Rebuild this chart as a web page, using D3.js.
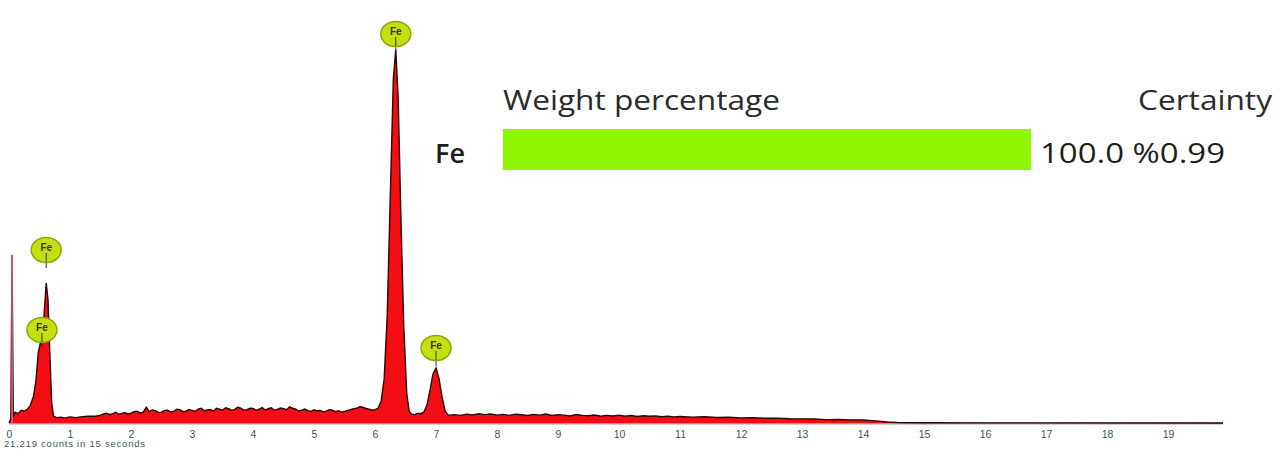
<!DOCTYPE html>
<html>
<head>
<meta charset="utf-8">
<script src="https://cdn.jsdelivr.net/npm/d3@7"></script>
<style>
  body { margin: 0; background: #fff; }
</style>
</head>
<body>
<svg id="chart"></svg>
<script>
// spectrum: energy (keV) and counts
const spectrumKeV = [
  0.00, 0.03, 0.05, 0.07, 0.10, 0.15, 0.20, 0.25, 0.30, 0.35, 0.40, 0.44, 0.48, 0.52, 0.55, 0.58, 0.61, 0.64, 0.67, 0.70, 0.73, 0.78, 0.85, 0.90,
  1.0, 1.1, 1.2, 1.3, 1.4,
  1.50, 1.55, 1.60, 1.65, 1.70, 1.75, 1.80, 1.85, 1.90, 1.95, 2.00, 2.05, 2.10, 2.15, 2.20, 2.25, 2.30, 2.35, 2.40, 2.45,
  2.50, 2.55, 2.60, 2.65, 2.70, 2.75, 2.80, 2.85, 2.90, 2.95, 3.00, 3.05, 3.10, 3.15, 3.20, 3.25, 3.30, 3.35, 3.40, 3.45,
  3.50, 3.55, 3.60, 3.65, 3.70, 3.75, 3.80, 3.85, 3.90, 3.95, 4.00, 4.05, 4.10, 4.15, 4.20, 4.25, 4.30, 4.35, 4.40, 4.45,
  4.50, 4.55, 4.60, 4.65, 4.70, 4.75, 4.80, 4.85, 4.90, 4.95, 5.00, 5.05, 5.10, 5.15, 5.20, 5.25, 5.30, 5.35, 5.40, 5.45,
  5.50, 5.55, 5.60, 5.65, 5.70, 5.75, 5.80, 5.85, 5.90, 5.95, 6.00,
  6.05, 6.1, 6.15, 6.2, 6.25, 6.3, 6.34, 6.38, 6.42, 6.47, 6.52, 6.56,
  6.6, 6.65, 6.7, 6.75, 6.8, 6.85, 6.9, 6.95, 7.0, 7.05, 7.1, 7.15, 7.2, 7.3, 7.4, 7.5, 7.6, 7.7, 7.8, 7.9,
  8.0, 8.1, 8.2, 8.3, 8.4, 8.5, 8.6, 8.7, 8.8, 8.9, 9.0, 9.1, 9.2, 9.3, 9.4, 9.5, 9.6, 9.7, 9.8, 9.9,
  10.0, 10.1, 10.2, 10.3, 10.4, 10.5, 10.6, 10.7, 10.8, 10.9, 11.0, 11.2, 11.4, 11.6, 11.8, 12.0, 12.2, 12.4, 12.6, 12.8,
  13.0, 13.2, 13.4, 13.6, 13.8, 14.0, 14.2, 14.4, 14.6, 15.0, 16.0, 19.9
];
const spectrumCounts = [
  0, 40, 1710, 60, 110, 95, 130, 120, 140, 180, 270, 420, 720, 830, 850, 1150, 1425, 1250, 700, 200, 70, 55, 60, 50,
  62, 55, 65, 70, 68,
  80, 92, 100, 85, 95, 110, 88, 98, 105, 92, 100, 115, 120, 102, 110, 160, 115, 132, 125, 108,
  110, 128, 130, 112, 118, 140, 135, 115, 120, 138, 128, 118, 140, 150, 125, 132, 138, 120, 150, 142,
  130, 155, 145, 128, 138, 160, 152, 130, 135, 150, 148, 128, 140, 158, 132, 145, 155, 130, 138, 152,
  145, 135, 165, 150, 140, 122, 130, 142, 125, 118, 135, 122, 128, 112, 120, 135, 130, 115, 125, 110,
  118, 128, 135, 145, 150, 165, 160, 148, 140, 130, 135,
  150, 220, 450, 1100, 2300, 3500, 3800, 3300, 2200, 1000, 300, 120,
  90, 85, 100, 95, 110, 180, 330, 500, 560, 450, 260, 120, 80, 85, 78, 90, 82, 95, 85, 92,
  80, 88, 78, 90, 84, 76, 88, 80, 92, 78, 85, 80, 72, 86, 78, 74, 82, 70, 78, 72,
  80, 70, 76, 66, 74, 68, 72, 64, 70, 62, 66, 60, 64, 56, 58, 52, 55, 48, 50, 44,
  42, 40, 34, 36, 32, 30, 22, 10, 4, 2, 1, 0
];

// peak labels: energy and count level of the label circle
const peakLabels = ["Fe", "Fe", "Fe", "Fe"];
const peakKeV = [0.61, 0.54, 6.34, 7.0];
const peakCounts = [1761, 947, 3959, 763];

const axisTicks = d3.range(0, 20);
const countsNote = "21,219 counts in 15 seconds";

// weight percentage table
const elements = ["Fe"];
const weightPct = [100.0];
const certainty = ["%0.99"];

const W = 1280, H = 454;
const svg = d3.select("#chart").attr("width", W).attr("height", H);

const x = d3.scaleLinear().domain([0, 19.9]).range([9, 1223]);
const y = d3.scaleLinear().domain([0, 4000]).range([423, 30]);

const data = spectrumKeV.map((e, i) => ({ e, c: spectrumCounts[i] }));

// axis baseline
svg.append("line")
    .attr("x1", x(0)).attr("x2", x(19.9))
    .attr("y1", y(0) + 0.5).attr("y2", y(0) + 0.5)
    .attr("stroke", "#a898b0")
    .attr("stroke-width", 2);

svg.append("path")
    .datum(data)
    .attr("fill", "#f40d12")
    .attr("d", d3.area().x(d => x(d.e)).y0(y(0)).y1(d => y(d.c)));

svg.append("path")
    .datum(data)
    .attr("fill", "none")
    .attr("stroke", "#2e0505")
    .attr("stroke-width", 1.4)
    .attr("d", d3.line().x(d => x(d.e)).y(d => y(d.c)));

// zero-energy strobe line
svg.append("line")
    .attr("x1", x(0.05)).attr("x2", x(0.05))
    .attr("y1", y(0)).attr("y2", y(1710))
    .attr("stroke", "#e8608a").attr("stroke-width", 1.5);

// x axis
const xAxis = svg.append("g")
    .attr("transform", `translate(0,${y(0) + 1})`)
    .call(d3.axisBottom(x).tickValues(axisTicks).tickSize(0).tickPadding(7).tickFormat(d3.format("d")));
xAxis.select(".domain").remove();
xAxis.selectAll("text")
    .style("font-size", "10.5px")
    .style("font-family", "'Liberation Sans', sans-serif")
    .style("fill", "#3b5656");

svg.append("text")
    .attr("x", 4).attr("y", 447)
    .attr("textLength", 141)
    .style("font-size", "9.5px")
    .style("font-family", "'Liberation Sans', sans-serif")
    .style("fill", "#3b5656")
    .text(countsNote);

// peak labels
const lab = svg.selectAll(".peak")
    .data(peakLabels.map((t, i) => ({ t, e: peakKeV[i], c: peakCounts[i] })))
    .enter().append("g")
    .attr("class", "peak")
    .attr("transform", d => `translate(${x(d.e)},${y(d.c)})`);

lab.append("line")
    .attr("x1", 0).attr("x2", 0).attr("y1", 3).attr("y2", 18)
    .attr("stroke", "#333").attr("stroke-width", 1);
lab.append("ellipse")
    .attr("rx", 15).attr("ry", 12.5)
    .attr("fill", "#c4e010")
    .attr("stroke", "#8ea600")
    .attr("stroke-width", 1.5);
lab.append("line")
    .attr("x1", 0).attr("x2", 0).attr("y1", 3).attr("y2", 12)
    .attr("stroke", "#333").attr("stroke-width", 1);
lab.append("text")
    .attr("y", 1)
    .attr("text-anchor", "middle")
    .style("font-size", "10px")
    .style("font-weight", "bold")
    .style("font-family", "'Liberation Sans', sans-serif")
    .style("fill", "#333")
    .text(d => d.t);

// weight percentage panel
const wx = d3.scaleLinear().domain([0, 100]).range([503, 1031]);
const font = "'Open Sans', sans-serif";

svg.append("text")
    .attr("x", 503).attr("y", 110)
    .attr("textLength", 277).attr("lengthAdjust", "spacingAndGlyphs")
    .style("font-size", "27px").style("font-family", font).style("fill", "#2b2b2b")
    .text("Weight percentage");
svg.append("text")
    .attr("x", 1138).attr("y", 110)
    .attr("textLength", 134).attr("lengthAdjust", "spacingAndGlyphs")
    .style("font-size", "27px").style("font-family", font).style("fill", "#2b2b2b")
    .text("Certainty");

elements.forEach((el, i) => {
    const top = 129 + i * 50;
    svg.append("rect")
        .attr("x", wx(0)).attr("y", top)
        .attr("width", wx(weightPct[i]) - wx(0)).attr("height", 41)
        .attr("fill", "#8ef600");
    svg.append("text")
        .attr("x", 435).attr("y", top + 34)
        .style("font-size", "27px").style("font-weight", "600").style("font-family", font).style("fill", "#1e1e1e")
        .text(el);
    svg.append("text")
        .attr("x", 1040).attr("y", top + 34)
        .attr("textLength", 185).attr("lengthAdjust", "spacingAndGlyphs")
        .style("font-size", "27px").style("font-family", font).style("fill", "#1e1e1e")
        .text(d3.format(".1f")(weightPct[i]) + " " + certainty[i]);
});
</script>
</body>
</html>
